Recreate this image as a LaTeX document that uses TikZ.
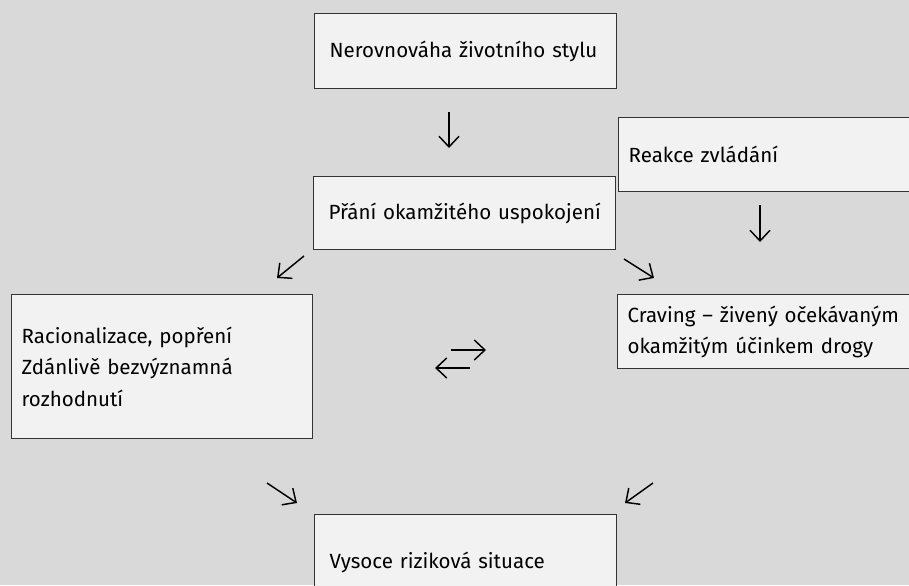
\documentclass[tikz,border=0pt]{standalone}
\usepackage{fontspec}
\setmainfont{Fira Sans}
\usetikzlibrary{arrows.meta}
\definecolor{bgcol}{HTML}{D9D9D9}
\definecolor{boxcol}{HTML}{F2F2F2}
\tikzset{box/.style = {draw=black!80, line width=1pt, fill=boxcol, rectangle, anchor=north west, align=left,
    inner ysep=0pt, font=\fontsize{15.4}{23.5}\selectfont},
  wide/.style = {text width=204pt, inner xsep=11.25pt},
  narrow/.style = {text width=225pt, inner xsep=7.5pt},
  arrow/.style = {line width=1.1pt, -{Straight Barb[length=8pt,width=15pt]}}}
\begin{document}
\begin{tikzpicture}[x=0.75pt,y=-0.75pt]
\useasboundingbox (0,0) rectangle (909,585);
\clip (0,0) rectangle (909,585);
\fill[bgcol] (0,0) rectangle (909,585);

\node[box, wide, minimum height=56.25pt] (nerov) at (314,13) {\mbox{Nerovnováha životního stylu}};
\node[box, wide, minimum height=54.75pt] (prani) at (313,176) {\mbox{Přání okamžitého uspokojení}};
\node[box, narrow, minimum height=55.5pt] (reakce) at (618,117) {Reakce zvládání};
\node[box, narrow, text width=210.75pt, minimum height=108pt] (racio) at (11,294) {Racionalizace, popření\\Zdánlivě bezvýznamná\\rozhodnutí};
\node[box, narrow, minimum height=55.5pt] (craving) at (617,294) {Craving – živený očekávaným\\okamžitým účinkem drogy};
\node[box, wide, minimum height=72pt] (vysoce) at (314,514) {Vysoce riziková situace};

\coordinate (a1s) at (449,112);  \coordinate (a1e) at (449,148);
\coordinate (a2s) at (760,205);  \coordinate (a2e) at (760,242);
\coordinate (a3s) at (304,256);  \coordinate (a3e) at (277,278);
\coordinate (a4s) at (624,259);  \coordinate (a4e) at (654,278);
\coordinate (a5s) at (451,350);  \coordinate (a5e) at (486,350);
\coordinate (a6s) at (470,368);  \coordinate (a6e) at (435,368);
\coordinate (a7s) at (267,483);  \coordinate (a7e) at (297,503);
\coordinate (a8s) at (653,483);  \coordinate (a8e) at (625,503);

\draw[arrow] (a1s) -- (a1e);
\draw[arrow] (a2s) -- (a2e);
\draw[arrow] (a3s) -- (a3e);
\draw[arrow] (a4s) -- (a4e);
\draw[arrow] (a5s) -- (a5e);
\draw[arrow] (a6s) -- (a6e);
\draw[arrow] (a7s) -- (a7e);
\draw[arrow] (a8s) -- (a8e);
\end{tikzpicture}
\end{document}
